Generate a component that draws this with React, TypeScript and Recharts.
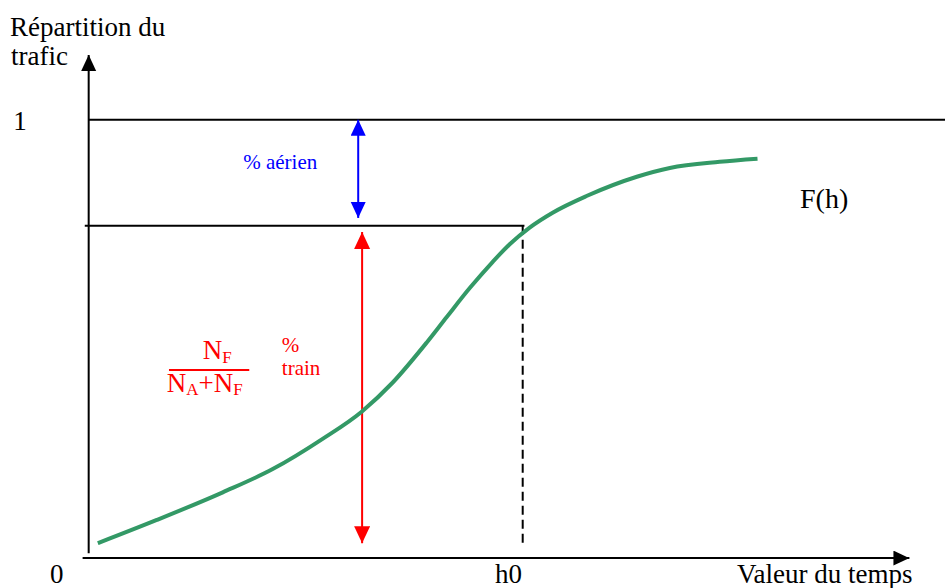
import { ComposedChart, Line, XAxis, YAxis, ReferenceLine, ReferenceDot } from 'recharts'

// F(h): cumulative share of traffic vs. time value
const hours = [0.21, 1.57, 3.09, 4.24, 5.39, 6.29, 7.0, 7.79, 8.25, 8.78, 9.31, 9.7, 10.16, 10.69, 11.47, 12.63, 13.39, 14.54, 15.41]
const share = [0.034, 0.087, 0.15, 0.203, 0.272, 0.334, 0.4, 0.492, 0.55, 0.616, 0.676, 0.716, 0.754, 0.788, 0.826, 0.87, 0.89, 0.904, 0.911]

const h0 = 10
const trainShare = 0.758

const data = hours.map((t, i) => ({ t, f: share[i] }))

const SERIF = '"Liberation Serif", "Times New Roman", serif'

const txt = (value: string, fill = '#000', size = 27, anchor: 'start' | 'middle' = 'start') => (p: any) => (
  <text x={p.cx} y={p.cy} fill={fill} fontSize={size} fontFamily={SERIF} textAnchor={anchor}>{value}</text>
)

const fraction = (p: any) => (
  <g fill="#ff0000" fontFamily={SERIF}>
    <text x={p.cx + 36} y={p.cy - 33} fontSize={27}>
      N<tspan fontSize={17} dy={4}>F</tspan>
    </text>
    <text x={p.cx} y={p.cy} fontSize={27}>
      N<tspan fontSize={17} dy={3}>A</tspan>
      <tspan fontSize={27} dy={-3}>+N</tspan>
      <tspan fontSize={17} dy={3}>F</tspan>
    </text>
  </g>
)

export default function App() {
  return (
    <div style={{ position: 'absolute', left: 0, top: 0, background: '#fff' }}>
      <ComposedChart width={945} height={588} data={data} margin={{ top: 54, right: 0, bottom: 8, left: 80 }}>
        <defs>
          <marker id="arrBlack" markerUnits="userSpaceOnUse" markerWidth={16} markerHeight={16} refX={16} refY={7.5} orient="auto-start-reverse">
            <path d="M0,0 L16,7.5 L0,15 z" fill="#000" />
          </marker>
          <marker id="arrBlue" markerUnits="userSpaceOnUse" markerWidth={16} markerHeight={16} refX={16} refY={7.5} orient="auto-start-reverse">
            <path d="M0,0 L16,7.5 L0,15 z" fill="#0000ff" />
          </marker>
          <marker id="arrRed" markerUnits="userSpaceOnUse" markerWidth={17} markerHeight={17} refX={17} refY={8} orient="auto-start-reverse">
            <path d="M0,0 L17,8 L0,16 z" fill="#ff0000" />
          </marker>
        </defs>
        <XAxis type="number" dataKey="t" domain={[-0.2, 19.73]} hide />
        <YAxis type="number" domain={[-0.05, 1.15]} hide />

        {/* axes */}
        <ReferenceLine segment={[{ x: 0, y: 0.011 }, { x: 0, y: 1.148 }]} stroke="#000" strokeWidth={2} markerEnd="url(#arrBlack)" />
        <ReferenceLine segment={[{ x: -0.14, y: 0 }, { x: 18.91, y: 0 }]} stroke="#000" strokeWidth={2} markerEnd="url(#arrBlack)" />

        {/* reference lines */}
        <ReferenceLine segment={[{ x: 0, y: 1 }, { x: 19.73, y: 1 }]} stroke="#000" strokeWidth={2} />
        <ReferenceLine segment={[{ x: -0.09, y: trainShare }, { x: h0 + 0.04, y: trainShare }]} stroke="#000" strokeWidth={2} />
        <ReferenceLine segment={[{ x: h0, y: trainShare }, { x: h0, y: 0.03 }]} stroke="#000" strokeWidth={2} strokeDasharray="9 5" />

        {/* share arrows */}
        <ReferenceLine segment={[{ x: 6.21, y: 0.776 }, { x: 6.21, y: 1 }]} stroke="#0000ff" strokeWidth={2} markerStart="url(#arrBlue)" markerEnd="url(#arrBlue)" />
        <ReferenceLine segment={[{ x: 6.3, y: 0.034 }, { x: 6.3, y: 0.744 }]} stroke="#ff0000" strokeWidth={2} markerStart="url(#arrRed)" markerEnd="url(#arrRed)" />
        <ReferenceLine segment={[{ x: 1.85, y: 0.429 }, { x: 3.7, y: 0.429 }]} stroke="#ff0000" strokeWidth={2} />

        <Line type="monotone" dataKey="f" stroke="#339966" strokeWidth={4} dot={false} isAnimationActive={false} />

        {/* texts */}
        <ReferenceDot x={-1.81} y={1.192} r={0} ifOverflow="visible" shape={txt('Répartition du')} />
        <ReferenceDot x={-1.79} y={1.126} r={0} ifOverflow="visible" shape={txt('trafic')} />
        <ReferenceDot x={-1.74} y={0.977} r={0} ifOverflow="visible" shape={txt('1')} />
        <ReferenceDot x={-0.89} y={-0.057} r={0} ifOverflow="visible" shape={txt('0')} />
        <ReferenceDot x={9.36} y={-0.057} r={0} ifOverflow="visible" shape={txt('h0')} />
        <ReferenceDot x={14.94} y={-0.057} r={0} ifOverflow="visible" shape={txt('Valeur du temps')} />
        <ReferenceDot x={16.39} y={0.799} r={0} ifOverflow="visible" shape={txt('F(h)', '#000', 28)} />
        <ReferenceDot x={3.56} y={0.888} r={0} ifOverflow="visible" shape={txt('% aérien', '#0000ff', 21)} />
        <ReferenceDot x={4.45} y={0.47} r={0} ifOverflow="visible" shape={txt('%', '#ff0000', 21)} />
        <ReferenceDot x={4.45} y={0.418} r={0} ifOverflow="visible" shape={txt('train', '#ff0000', 21)} />
        <ReferenceDot x={1.8} y={0.379} r={0} ifOverflow="visible" shape={fraction} />
      </ComposedChart>
    </div>
  )
}
